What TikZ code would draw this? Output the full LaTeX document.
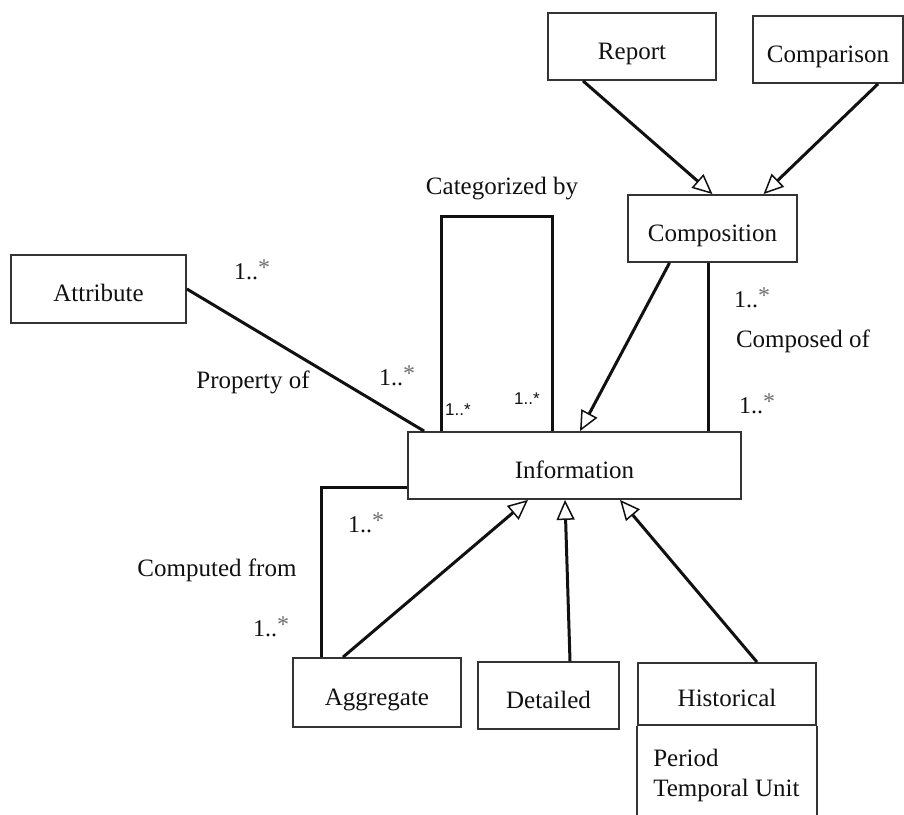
\documentclass[tikz,border=0pt]{standalone}
\usepackage{fontspec}
\setmainfont{Liberation Serif}
\newfontfamily\multsans{Liberation Sans}
\usetikzlibrary{arrows.meta,positioning}
\definecolor{umlink}{HTML}{111111}
\definecolor{umledge}{HTML}{333333}
\definecolor{umlstar}{HTML}{707070}
\tikzset{
  cls/.style={draw=umledge, line width=1.8pt, fill=white, inner sep=0pt, text height=25pt, text depth=0pt, font=\fontsize{25}{28}\selectfont, text=umlink},
  lbl/.style={inner sep=0pt, font=\fontsize{25}{28}\selectfont, text=umlink},
  mult/.style={lbl, font=\fontsize{24}{28}\selectfont},
  multsm/.style={inner sep=0pt, font=\multsans\fontsize{17}{20}\selectfont, text=umlink},
  assoc/.style={line width=3pt, color=umlink},
  gen/.style={assoc, -{Triangle[open, length=20pt, width=18pt, line width=1.5pt]}},
}
\newcommand{\mstar}{1..\raisebox{4pt}{\textcolor{umlstar}{*}}}

\begin{document}
\begin{tikzpicture}[x=1pt,y=-1pt]
  \clip (0,0) rectangle (904,814);
  \fill[white] (0,0) rectangle (904,814);
  % classes
  \node[cls, minimum width=168pt, minimum height=67pt] (report) at (632,46.5) {Report};
  \node[cls, minimum width=150pt, minimum height=67pt] (compar) at (828,49.5) {Comparison};
  \node[cls, minimum width=169pt, minimum height=67pt] (compos) at (712.5,228.5) {Composition};
  \node[cls, minimum width=175pt, minimum height=68pt] (attr) at (98.5,289) {Attribute};
  \node[cls, minimum width=333pt, minimum height=67pt] (info) at (574.5,465.5) {Information};
  \node[cls, minimum width=168pt, minimum height=69pt] (aggr) at (377,692.5) {Aggregate};
  \node[cls, minimum width=141pt, minimum height=67pt] (detail) at (548.5,695.5) {Detailed};
  \node[cls, minimum width=178pt, minimum height=62pt] (hist) at (727,694) {Historical};
  \draw[draw=umledge, line width=1.8pt] (hist.south west) -- ++(0,100) (hist.south east) -- ++(0,100);
  \node[lbl, anchor=north west, align=left, font=\fontsize{25}{30}\selectfont] (histattr) at ([xshift=16pt, yshift=-23pt]hist.south west) {Period\\Temporal Unit};

  % generalization / composition arrows
  \draw[gen] ([xshift=-49pt]report.south) -- (compos.north);
  \draw[gen] ([xshift=50pt]compar.south) -- ([xshift=51pt]compos.north);
  \draw[gen] ([xshift=-43pt]compos.south) -- ([xshift=5.5pt]info.north);
  \draw[gen] ([xshift=-34pt]aggr.north) -- ([xshift=-46.5pt]info.south);
  \draw[gen] ([xshift=21.5pt]detail.north) -- ([xshift=-9.5pt]info.south);
  \draw[gen] ([xshift=30pt]hist.north) -- ([xshift=45.5pt]info.south);

  % associations
  \coordinate (composedat) at ([xshift=-4.5pt]compos.south);
  \draw[assoc] (composedat) -- (composedat |- info.north);
  \draw[assoc] (attr.east) -- ([xshift=17pt]info.north west);
  \coordinate (cattop) at (498,216);
  \draw[assoc] ([xshift=34pt]info.north west) |- (cattop) -| ([xshift=145pt]info.north west);
  \draw[assoc] ([yshift=-21.5pt]info.west) -| ([xshift=-56pt]aggr.north);

  % labels
  \node[lbl] (catby) at (502,189) {Categorized by};
  \node[multsm] (catm1) at (458,410) {1..*};
  \node[multsm] (catm2) at (527,399) {1..*};
  \node[mult] (attrm1) at (252,270) {\mstar};
  \node[lbl] (propof) at (253,382) {Property of};
  \node[mult] (attrm2) at (397,376) {\mstar};
  \node[mult] (compm1) at (752,298) {\mstar};
  \node[lbl] (compof) at (803,341) {Composed of};
  \node[mult] (compm2) at (757,404) {\mstar};
  \node[mult] (cfm1) at (366,523) {\mstar};
  \node[lbl] (compfr) at (217,570) {Computed from};
  \node[mult] (cfm2) at (271,627) {\mstar};
\end{tikzpicture}
\end{document}
